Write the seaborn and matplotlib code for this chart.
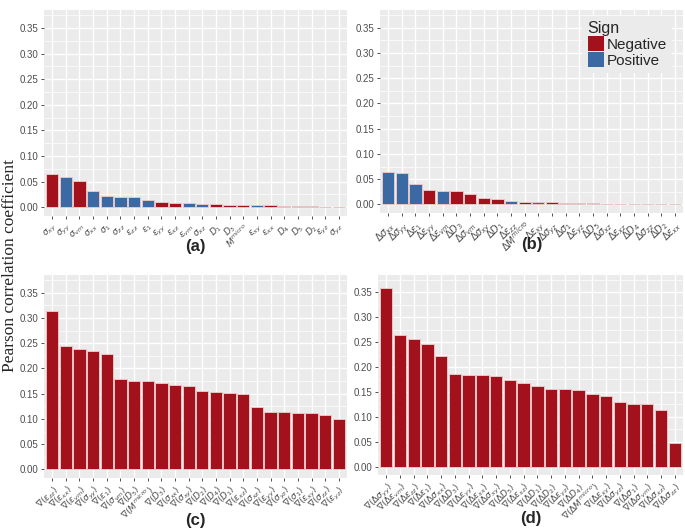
import numpy as np
import pandas as pd
import matplotlib
matplotlib.use('Agg')
import matplotlib.pyplot as plt
from matplotlib.patches import Patch
from matplotlib.ticker import MultipleLocator
import seaborn as sns

# %% data
a_labels = [r'$\sigma_{xy}$', r'$\sigma_{yy}$', r'$\sigma_{vm}$', r'$\sigma_{xx}$', r'$\sigma_{1}$',
            r'$\sigma_{zz}$', r'$\varepsilon_{zz}$', r'$\varepsilon_{1}$', r'$\varepsilon_{yy}$',
            r'$\varepsilon_{xz}$', r'$\varepsilon_{vm}$', r'$\sigma_{xz}$', r'$D_1$', r'$D_3$',
            r'$M^{micro}$', r'$\varepsilon_{xy}$', r'$\varepsilon_{xx}$', r'$D_4$', r'$D_5$',
            r'$D_2$', r'$\varepsilon_{yz}$', r'$\sigma_{yz}$']
a_values = [0.065, 0.059, 0.051, 0.032, 0.023, 0.021, 0.0205, 0.014, 0.0105, 0.0085, 0.0078,
            0.0072, 0.0055, 0.005, 0.0045, 0.0042, 0.004, 0.003, 0.0025, 0.002, 0.0015, 0.0006]
a_signs = ['Negative', 'Positive', 'Negative', 'Positive', 'Positive', 'Positive', 'Positive',
           'Positive', 'Negative', 'Negative', 'Positive', 'Positive', 'Negative', 'Negative',
           'Negative', 'Positive', 'Negative', 'Negative', 'Negative', 'Negative', 'Positive',
           'Negative']

b_labels = [r'$\Delta\sigma_{xx}$', r'$\Delta\sigma_{yy}$', r'$\Delta\varepsilon_{1}$',
            r'$\Delta\varepsilon_{yy}$', r'$\Delta\varepsilon_{vm}$', r'$\Delta D_3$',
            r'$\Delta\sigma_{vm}$', r'$\Delta\sigma_{xy}$', r'$\Delta D_1$', r'$\Delta\varepsilon_{zz}$',
            r'$\Delta M^{micro}$', r'$\Delta\varepsilon_{xy}$', r'$\Delta\sigma_{yz}$',
            r'$\Delta\sigma_{1}$', r'$\Delta\varepsilon_{yz}$', r'$\Delta D_5$', r'$\Delta\sigma_{xz}$',
            r'$\Delta\varepsilon_{xz}$', r'$\Delta D_4$', r'$\Delta\sigma_{zz}$', r'$\Delta D_2$',
            r'$\Delta\varepsilon_{xx}$']
b_values = [0.065, 0.063, 0.040, 0.029, 0.027, 0.0265, 0.020, 0.0125, 0.0105, 0.0075, 0.0055,
            0.0043, 0.004, 0.0028, 0.0027, 0.0027, 0.0015, 0.0014, 0.0013, 0.0005, 0.0004, 0.0003]
b_signs = ['Positive', 'Positive', 'Positive', 'Negative', 'Positive', 'Negative', 'Negative',
           'Negative', 'Negative', 'Positive', 'Negative', 'Positive', 'Negative', 'Negative',
           'Positive', 'Negative', 'Positive', 'Positive', 'Negative', 'Positive', 'Negative',
           'Negative']

c_labels = [r'$\nabla(\varepsilon_{zz})$', r'$\nabla(\varepsilon_{xx})$', r'$\nabla(\varepsilon_{vm})$',
            r'$\nabla(\sigma_{yy})$', r'$\nabla(\varepsilon_{1})$', r'$\nabla(\sigma_{vm})$',
            r'$\nabla(D_5)$', r'$\nabla(M^{micro})$', r'$\nabla(D_3)$', r'$\nabla(\sigma_{xx})$',
            r'$\nabla(\sigma_{xy})$', r'$\nabla(D_2)$', r'$\nabla(D_4)$', r'$\nabla(D_1)$',
            r'$\nabla(\varepsilon_{xz})$', r'$\nabla(\sigma_{xz})$', r'$\nabla(\varepsilon_{yy})$',
            r'$\nabla(\sigma_{yz})$', r'$\nabla(\sigma_{1})$', r'$\nabla(\varepsilon_{xy})$',
            r'$\nabla(\sigma_{zz})$', r'$\nabla(\varepsilon_{yz})$']
c_values = [0.314, 0.2446, 0.2387, 0.2348, 0.229, 0.1786, 0.1747, 0.1747, 0.1721, 0.1669, 0.165,
            0.1559, 0.1533, 0.152, 0.150, 0.1242, 0.1145, 0.1139, 0.1126, 0.1113, 0.1074, 0.099]
c_signs = ['Negative'] * len(c_values)

d_labels = [r'$\nabla(\Delta\sigma_{yy})$', r'$\nabla(\Delta\varepsilon_{vm})$',
            r'$\nabla(\Delta\varepsilon_{zz})$', r'$\nabla(\Delta\varepsilon_{1})$',
            r'$\nabla(\Delta\sigma_{xx})$', r'$\nabla(\Delta D_3)$', r'$\nabla(\Delta\varepsilon_{yy})$',
            r'$\nabla(\Delta\varepsilon_{xx})$', r'$\nabla(\Delta\sigma_{xy})$', r'$\nabla(\Delta D_5)$',
            r'$\nabla(\Delta\varepsilon_{xz})$', r'$\nabla(\Delta D_1)$', r'$\nabla(\Delta D_2)$',
            r'$\nabla(\Delta\varepsilon_{yz})$', r'$\nabla(\Delta D_4)$', r'$\nabla(\Delta M^{micro})$',
            r'$\nabla(\Delta\varepsilon_{xy})$', r'$\nabla(\Delta\sigma_{yz})$',
            r'$\nabla(\Delta\sigma_{1})$', r'$\nabla(\Delta\sigma_{vm})$', r'$\nabla(\Delta\sigma_{xz})$',
            r'$\nabla(\Delta\sigma_{zz})$']
d_values = [0.358, 0.2654, 0.2569, 0.2458, 0.2215, 0.1861, 0.1848, 0.1835, 0.1829, 0.173, 0.1678,
            0.1612, 0.156, 0.1553, 0.1547, 0.1468, 0.1416, 0.1298, 0.1258, 0.1252, 0.1134, 0.0472]
d_signs = ['Negative'] * len(d_values)

sign_colors = {'Negative': '#A3121C', 'Positive': '#3A69A3'}

# %% style (ggplot-ish)
sns.set_theme(style='darkgrid', rc={'axes.facecolor': '#EBEBEB', 'grid.color': 'white'})
plt.rcParams['font.family'] = ['Liberation Sans', 'DejaVu Sans']

fig = plt.figure(figsize=(6.85, 5.31), dpi=100)
W, H = 685, 531

# panel boxes in pixels: left, right, top, bottom
boxes = [(44, 347, 10, 216), (380, 683, 10, 213), (44, 347, 275, 478), (378, 683, 275, 475)]
panels = [(a_labels, a_values, a_signs, '(a)', 6.5),
          (b_labels, b_values, b_signs, '(b)', 7.0),
          (c_labels, c_values, c_signs, '(c)', 6.5),
          (d_labels, d_values, d_signs, '(d)', 6.5)]

for (l, r, t, b), (labels, values, signs, tag, xfs) in zip(boxes, panels):
    ax = fig.add_axes([l / W, 1 - b / H, (r - l) / W, (b - t) / H])
    df = pd.DataFrame({'feature': labels, 'value': values, 'sign': signs})
    sns.barplot(data=df, x='feature', y='value', hue='sign', order=labels,
                hue_order=['Negative', 'Positive'], palette=sign_colors, dodge=False,
                saturation=1, width=0.9, edgecolor='#e6c6c6', linewidth=0.7, legend=False, ax=ax)
    ax.set_xlim(-0.6, len(labels) - 0.4)
    ax.set_ylim(-0.017, 0.385)
    ax.yaxis.set_minor_locator(MultipleLocator(0.025))
    ax.set_yticks(np.arange(0, 0.351, 0.05))
    ax.set_yticklabels([f'{v:.2f}' for v in ax.get_yticks()])
    ax.grid(which='major', color='white', linewidth=1.0)
    ax.grid(which='minor', axis='y', color='white', linewidth=0.5)
    ax.set_axisbelow(True)
    for s in ax.spines.values():
        s.set_visible(False)
    ax.tick_params(axis='both', which='major', length=2.5, width=0.6, color='#333333',
                   labelcolor='#4D4D4D', pad=1.5, bottom=True, left=True)
    ax.tick_params(axis='y', labelsize=7)
    ax.tick_params(axis='x', labelsize=xfs)
    for lab in ax.get_xticklabels():
        lab.set_rotation(45)
        lab.set_ha('right')
        lab.set_rotation_mode('anchor')
    ax.set_xlabel('')
    ax.set_ylabel('')
    yt = 1 - (b + 31 if tag in ('(a)', '(b)') else b + 43) / H
    fig.text((l + r) / 2 / W, yt, tag, ha='center', va='center', fontsize=12, fontweight='bold')
    if tag == '(b)':
        handles = [Patch(facecolor=sign_colors[k], edgecolor='none') for k in ['Negative', 'Positive']]
        leg = ax.legend(handles, ['Negative', 'Positive'], title='Sign', loc='upper right',
                        bbox_to_anchor=(0.975, 0.985), fontsize=11, title_fontsize=11.5,
                        frameon=True, fancybox=False, framealpha=1, edgecolor='white',
                        handlelength=1.1, handleheight=1.1, handletextpad=0.15,
                        labelspacing=0.0, borderpad=0.35, borderaxespad=0.2, alignment='left')
        leg.get_frame().set_linewidth(0)

fig.text(10 / W, 1 - 265 / H, 'Pearson correlation coefficient', rotation=90, ha='center',
         va='center', fontsize=12.5, family=['Liberation Serif', 'DejaVu Serif'])

fig.savefig('out.png', dpi=100)
